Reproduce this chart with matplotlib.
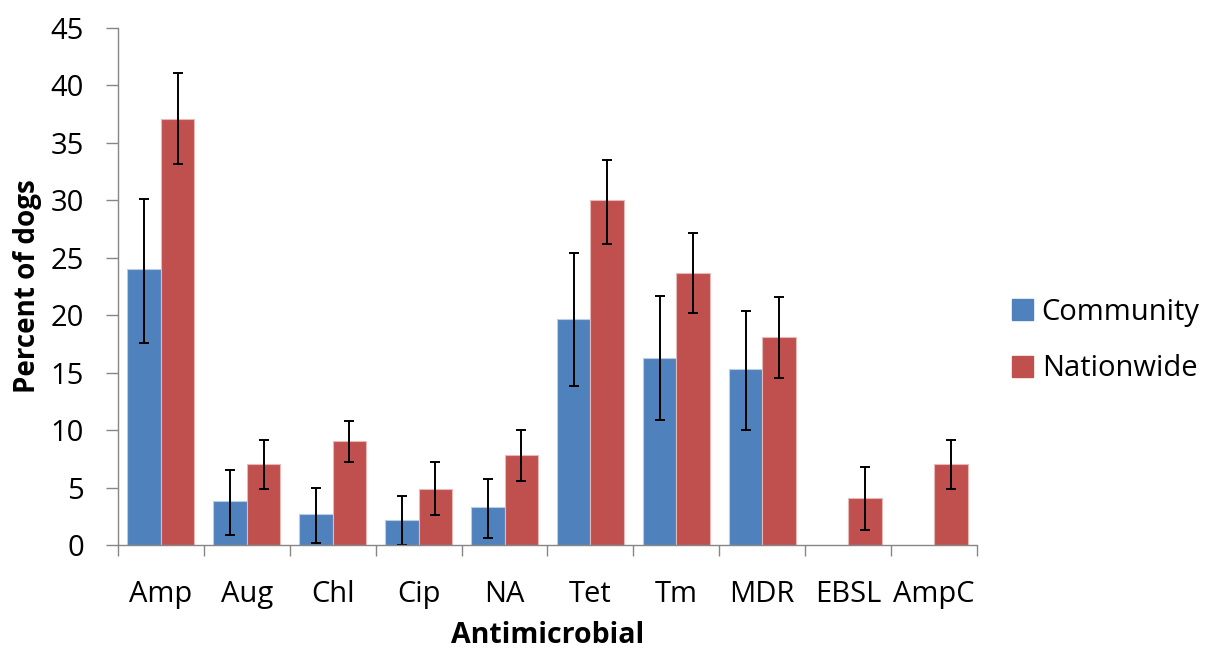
import numpy as np
import matplotlib.pyplot as plt
from matplotlib.patches import Patch
from matplotlib.ticker import FixedLocator

plt.rcParams['font.family'] = ['Open Sans', 'DejaVu Sans']

categories = ['Amp', 'Aug', 'Chl', 'Cip', 'NA', 'Tet', 'Tm', 'MDR', 'EBSL', 'AmpC']

# percent of dogs, with lower / upper confidence bounds (nan = no bar)
community = [24.0, 3.8, 2.7, 2.2, 3.3, 19.7, 16.3, 15.3, np.nan, np.nan]
community_lo = [17.6, 0.85, 0.2, 0.0, 0.6, 13.8, 10.9, 10.0, np.nan, np.nan]
community_hi = [30.1, 6.5, 5.0, 4.25, 5.75, 25.4, 21.65, 20.4, np.nan, np.nan]

nationwide = [37.1, 7.05, 9.05, 4.9, 7.8, 30.0, 23.7, 18.1, 4.05, 7.05]
nationwide_lo = [33.2, 4.85, 7.25, 2.6, 5.6, 26.2, 20.15, 14.5, 1.35, 4.85]
nationwide_hi = [41.1, 9.1, 10.8, 7.25, 10.0, 33.55, 27.15, 21.55, 6.75, 9.15]

blue = '#4F81BD'
red = '#C0504D'
grey = '#868686'

fig = plt.figure(figsize=(12.11, 6.5), dpi=100)
ax = fig.add_axes([0.0974, 0.1615, 0.7094, 0.7955])

x = np.arange(len(categories))
w = 0.39

c = np.array(community)
n = np.array(nationwide)
c_err = [c - np.array(community_lo), np.array(community_hi) - c]
n_err = [n - np.array(nationwide_lo), np.array(nationwide_hi) - n]

ax.bar(x - w / 2, c, w, color=blue, edgecolor='#B9CDE5', linewidth=0.8)
ax.bar(x + w / 2, n, w, color=red, edgecolor='#E6B9B8', linewidth=0.8)
ax.errorbar(x - w / 2, c, yerr=c_err, fmt='none', ecolor='black',
            elinewidth=1.4, capsize=3.3, capthick=1.4)
ax.errorbar(x + w / 2, n, yerr=n_err, fmt='none', ecolor='black',
            elinewidth=1.4, capsize=3.3, capthick=1.4)

ax.set_xlim(-0.5, len(categories) - 0.5)
ax.set_ylim(0, 45)
ax.set_yticks(range(0, 46, 5))
ax.set_xticks(x)
ax.set_xticklabels(categories)
ax.xaxis.set_minor_locator(FixedLocator(np.arange(-0.5, len(categories), 1)))

ax.tick_params(axis='x', which='major', length=0, pad=25, labelsize=21)
ax.tick_params(axis='x', which='minor', length=8, color=grey, width=1)
ax.tick_params(axis='y', length=8.5, color=grey, width=1, pad=16, labelsize=21)

for s in ['top', 'right']:
    ax.spines[s].set_visible(False)
for s in ['left', 'bottom']:
    ax.spines[s].set_color(grey)
    ax.spines[s].set_linewidth(1)

ax.set_xlabel('Antimicrobial', fontsize=20.5, fontweight='bold', labelpad=9)
ax.set_ylabel('Percent of dogs', fontsize=20, fontweight='bold', labelpad=6)

handles = [Patch(facecolor=blue, edgecolor=blue), Patch(facecolor=red, edgecolor=red)]
fig.legend(handles, ['Community', 'Nationwide'], loc='center left',
           bbox_to_anchor=(0.826, 0.476), frameon=False, fontsize=21,
           handlelength=0.72, handleheight=0.72, handletextpad=0.3,
           labelspacing=0.95, borderaxespad=0)

fig.savefig('out.png', dpi=100)
